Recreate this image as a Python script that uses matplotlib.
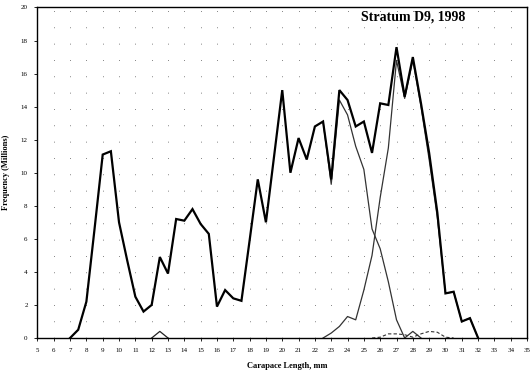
import matplotlib
matplotlib.use("Agg")
import matplotlib.pyplot as plt
import numpy as np

# Carapace length (mm), half-mm steps
length_total = [7, 7.5, 8, 8.5, 9, 9.5, 10, 10.5, 11, 11.5, 12, 12.5, 13, 13.5, 14, 14.5,
                15, 15.5, 16, 16.5, 17, 17.5, 18, 18.5, 19, 19.5, 20, 20.5, 21, 21.5, 22,
                22.5, 23, 23.5, 24, 24.5, 25, 25.5, 26, 26.5, 27, 27.5, 28, 28.5, 29, 29.5,
                30, 30.5, 31, 31.5, 32]
freq_total = [0, 0.5, 2.2, 6.6, 11.1, 11.3, 7.0, 4.7, 2.5, 1.6, 2.0, 4.9, 3.9, 7.2, 7.1, 7.8,
              6.9, 6.3, 1.9, 2.9, 2.4, 2.25, 5.9, 9.6, 7.0, 11.0, 15.0, 10.0, 12.1, 10.8, 12.8,
              13.1, 9.6, 15.0, 14.4, 12.8, 13.1, 11.2, 14.2, 14.1, 17.6, 14.6, 17.0, 14.2, 11.2, 7.6,
              2.7, 2.8, 1.0, 1.2, 0]

# Small component near 12.5 mm
length_a = [12, 12.5, 13]
freq_a = [0, 0.4, 0]

# Descending component (middle mode)
length_b = [22.5, 23, 23.5, 24, 24.5, 25, 25.5, 26, 26.5, 27, 27.5, 28, 28.5]
freq_b = [13.1, 9.3, 14.4, 13.5, 11.6, 10.2, 6.6, 5.4, 3.4, 1.1, 0.0, 0.4, 0]

# Rising component (right mode)
length_c = [22.5, 23, 23.5, 24, 24.5, 25, 25.5, 26, 26.5, 27, 27.5, 28, 28.5, 29, 29.5,
            30, 30.5, 31, 31.5, 32]
freq_c = [0, 0.3, 0.7, 1.3, 1.1, 2.9, 5.0, 8.5, 11.5, 16.8, 14.5, 16.8, 14.0, 10.8, 7.3,
          2.7, 2.8, 1.0, 1.2, 0]

# Dashed minor component
length_d = [25.5, 26, 26.5, 27, 27.5, 28, 28.5, 29, 29.5, 30, 30.5]
freq_d = [0, 0.05, 0.25, 0.25, 0.2, 0.05, 0.25, 0.4, 0.35, 0.05, 0]

x_ticks = list(range(5, 36))
y_ticks = list(range(0, 21, 2))

fig = plt.figure(figsize=(5.30, 3.78), dpi=100)
ax = fig.add_axes([0.0706, 0.1058, 0.9239, 0.8744])

serif = ["Liberation Serif", "DejaVu Serif"]

for xv in x_ticks[1:-1]:
    ax.axvline(xv, color="#666666", lw=0.7, linestyle=(0, (0.8, 16)), zorder=0)

ax.plot(length_a, freq_a, color="#222222", lw=0.9, zorder=2)
ax.plot(length_b, freq_b, color="#333333", lw=0.9, zorder=2)
ax.plot(length_c, freq_c, color="#333333", lw=0.9, zorder=2)
ax.plot(length_d, freq_d, color="#333333", lw=0.8, linestyle=(0, (3, 2)), zorder=2)
ax.plot(length_total, freq_total, color="black", lw=1.6, zorder=3, solid_joinstyle="miter")

ax.set_xlim(5, 35)
ax.set_ylim(0, 20)
ax.set_xticks(x_ticks)
ax.set_yticks(y_ticks)
ax.set_xticklabels([str(v) for v in x_ticks], fontsize=5, family=serif)
ax.set_yticklabels([str(v) for v in y_ticks], fontsize=5, family=serif)
ax.tick_params(axis="both", length=2, width=0.6, pad=5)
for s in ax.spines.values():
    s.set_linewidth(1.0)

ax.set_xlabel("Carapace Length, mm", fontsize=6, fontweight="bold", family=serif)
ax.xaxis.set_label_coords(0.51, -0.072)
ax.set_ylabel("Frequency (Millions)", fontsize=6, fontweight="bold", family=serif)
ax.yaxis.set_label_coords(-0.056, 0.5)

ax.text(0.767, 0.971, "Stratum D9, 1998", transform=ax.transAxes, fontsize=10,
        fontweight="bold", family=serif, ha="center", va="center")

fig.savefig("out.png", dpi=100)
